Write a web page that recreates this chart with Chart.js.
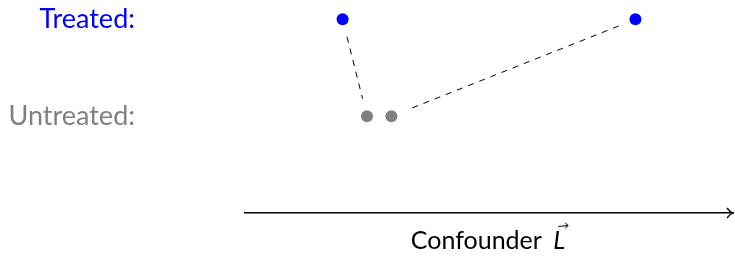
<!DOCTYPE html>
<html lang="en">
<head>
  <meta charset="UTF-8">
  <title>Confounder</title>
  <script src="https://cdn.jsdelivr.net/npm/chart.js"></script>
  <style>
    html, body { margin: 0; padding: 0; background: #fff; }
    #wrap { width: 735px; height: 256px; }
  </style>
</head>
<body>
  <div id="wrap"><canvas id="chart"></canvas></div>
  <script>
    // positions along the confounder axis (0..10)
    const treatedX = [2, 8];
    const untreatedX = [2.5, 3];
    const groupLabels = ['Untreated:', 'Treated:'];  // y = 0, y = 1
    const groupColors = ['#808080', '#0000ff'];
    // matched pairs: [treated index, untreated index]
    const pairs = [[0, 0], [1, 1]];
    const axisTitle = 'Confounder';
    const axisSymbol = 'L';

    const FONT = 'Lato, sans-serif';
    const TITLE_SIZE = 25;

    const overlay = {
      id: 'overlay',
      beforeDatasetsDraw(chart) {
        const { ctx, scales: { x, y } } = chart;
        ctx.save();
        ctx.strokeStyle = '#000';
        ctx.lineWidth = 1;
        ctx.setLineDash([6, 6]);
        const trim = 18;
        pairs.forEach(([ti, ui]) => {
          const x1 = x.getPixelForValue(treatedX[ti]), y1 = y.getPixelForValue(1);
          const x2 = x.getPixelForValue(untreatedX[ui]), y2 = y.getPixelForValue(0);
          const len = Math.hypot(x2 - x1, y2 - y1);
          const ux = (x2 - x1) / len, uy = (y2 - y1) / len;
          ctx.beginPath();
          ctx.moveTo(x1 + ux * trim, y1 + uy * trim);
          ctx.lineTo(x2 - ux * trim, y2 - uy * trim);
          ctx.stroke();
        });
        ctx.restore();
      },
      afterDraw(chart) {
        const { ctx, chartArea, scales: { x } } = chart;
        const yb = chartArea.bottom;
        const xr = x.right;
        ctx.save();
        // arrow head
        ctx.strokeStyle = '#000';
        ctx.lineWidth = 1.3;
        ctx.beginPath();
        ctx.moveTo(xr - 6, yb - 5);
        ctx.quadraticCurveTo(xr - 3, yb - 1, xr, yb);
        ctx.quadraticCurveTo(xr - 3, yb + 1, xr - 6, yb + 5);
        ctx.stroke();
        // axis title
        ctx.fillStyle = '#000';
        ctx.textBaseline = 'alphabetic';
        ctx.font = TITLE_SIZE + 'px ' + FONT;
        const w1 = ctx.measureText(axisTitle + ' ').width + 5;
        ctx.font = 'italic ' + TITLE_SIZE + 'px ' + FONT;
        const w2 = ctx.measureText(axisSymbol).width;
        const cx = (x.left + x.right) / 2;
        const sx = cx - (w1 + w2) / 2 - 1;
        const base = 249;
        ctx.font = TITLE_SIZE + 'px ' + FONT;
        ctx.fillText(axisTitle, sx, base);
        ctx.font = 'italic ' + TITLE_SIZE + 'px ' + FONT;
        ctx.fillText(axisSymbol, sx + w1, base);
        // vector arrow over L
        const ax0 = sx + w1 + 5, ax1 = sx + w1 + w2 + 3, ay = base - 23;
        ctx.lineWidth = 1;
        ctx.beginPath();
        ctx.moveTo(ax0, ay + 0.5);
        ctx.lineTo(ax1, ay - 0.5);
        ctx.stroke();
        ctx.beginPath();
        ctx.moveTo(ax1 - 3, ay - 3);
        ctx.lineTo(ax1, ay - 0.5);
        ctx.lineTo(ax1 - 3, ay + 2);
        ctx.stroke();
        ctx.restore();
      }
    };

    new Chart(document.getElementById('chart'), {
      type: 'scatter',
      data: {
        datasets: [
          {
            label: 'Treated',
            data: treatedX.map(v => ({ x: v, y: 1 })),
            backgroundColor: groupColors[1],
            borderWidth: 0,
            pointRadius: 6
          },
          {
            label: 'Untreated',
            data: untreatedX.map(v => ({ x: v, y: 0 })),
            backgroundColor: groupColors[0],
            borderWidth: 0,
            pointRadius: 6
          }
        ]
      },
      options: {
        responsive: true,
        maintainAspectRatio: false,
        animation: false,
        layout: { autoPadding: false, padding: { top: 0, right: 2, bottom: 0, left: 0 } },
        plugins: { legend: { display: false }, tooltip: { enabled: false } },
        scales: {
          x: {
            type: 'linear', min: 0, max: 10,
            grid: { display: false, drawTicks: false },
            border: { display: true, color: '#000', width: 1.5 },
            ticks: { display: false },
            afterFit: s => { s.height = 43; s.paddingLeft = 0; s.paddingRight = 0; }
          },
          y: {
            type: 'linear', min: -1, max: 1.2,
            grid: { display: false, drawTicks: false },
            border: { display: false },
            afterBuildTicks: s => { s.ticks = [{ value: 0 }, { value: 1 }]; },
            ticks: {
              padding: 110,
              font: { family: 'Lato', size: 27 },
              color: c => groupColors[c.tick.value],
              callback: v => groupLabels[v]
            },
            afterFit: s => { s.width = 245; s.paddingTop = 0; s.paddingBottom = 0; }
          }
        }
      },
      plugins: [overlay]
    });
  </script>
</body>
</html>
